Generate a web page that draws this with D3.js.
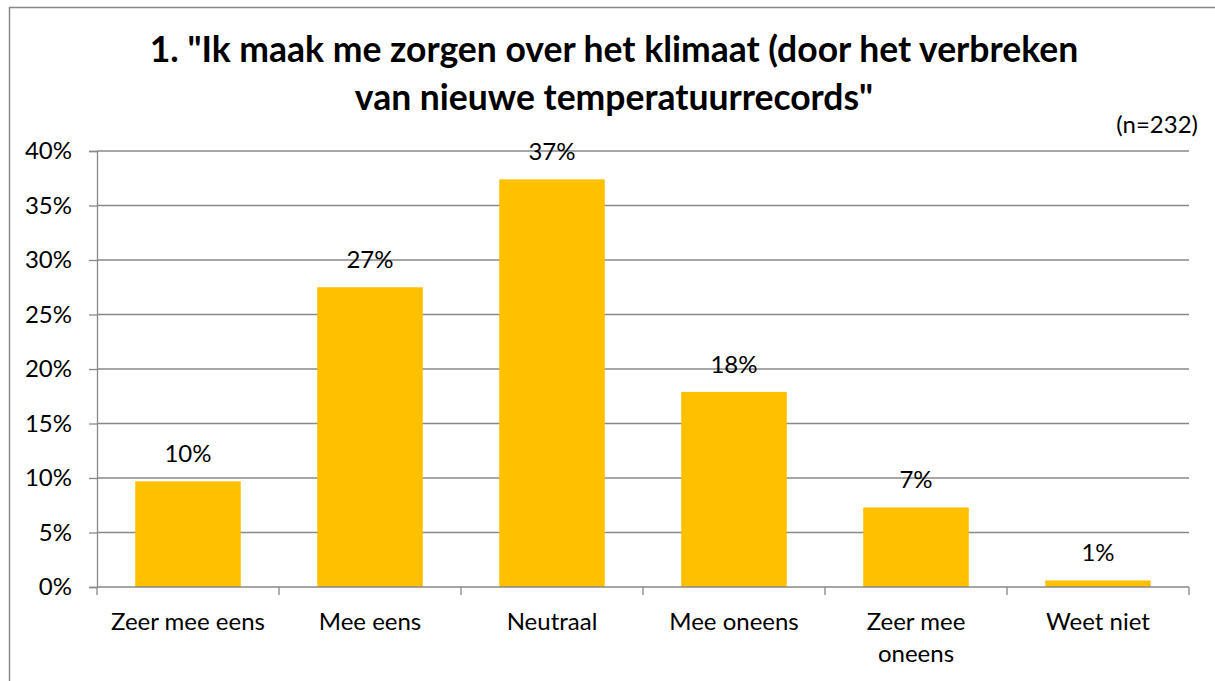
<!DOCTYPE html>
<html>
<head>
<meta charset="utf-8">
<script src="https://cdn.jsdelivr.net/npm/d3@7"></script>
<style>
    body { margin: 0; background: #fff; overflow: hidden; }
    svg { display: block; }
    text { font-family: Lato, "Open Sans", sans-serif; fill: #000; }
</style>
</head>
<body>
<div class="graph-goes-here"></div>
<script>
// chart data
var categories = ["Zeer mee eens", "Mee eens", "Neutraal", "Mee oneens", "Zeer mee oneens", "Weet niet"];
var values = [9.7, 27.5, 37.4, 17.9, 7.3, 0.6];
var valueLabels = ["10%", "27%", "37%", "18%", "7%", "1%"];
var yTicks = [0, 5, 10, 15, 20, 25, 30, 35, 40];
var titleLines = ["1. \"Ik maak me zorgen over het klimaat (door het verbreken", "van nieuwe temperatuurrecords\""];
var sampleNote = "(n=232)";

var W = 1215, H = 681;
var margin = { top: 151, right: 26, bottom: 94, left: 97 },
    width = W - margin.left - margin.right,
    height = H - margin.top - margin.bottom;

var labelSize = "24px";

var root = d3.select(".graph-goes-here")
    .append("svg")
    .attr("width", W)
    .attr("height", H);

// outer chart border: only top and left edges fall inside the picture
root.append("path")
    .attr("d", "M9.5," + H + "V7.5H" + W)
    .attr("fill", "none")
    .attr("stroke", "#888")
    .attr("stroke-width", 1.5);

root.append("g").selectAll("text")
    .data(titleLines)
    .join("text")
    .attr("x", 614)
    .attr("y", (d, i) => 62 + i * 48)
    .attr("text-anchor", "middle")
    .style("font-weight", "bold")
    .style("font-size", "35.5px")
    .text(d => d);

root.append("text")
    .attr("x", 1198).attr("y", 133)
    .attr("text-anchor", "end")
    .style("font-size", labelSize)
    .text(sampleNote);

var svg = root.append("g")
    .attr("transform", "translate(" + margin.left + "," + margin.top + ")");

var x = d3.scaleBand().domain(categories).range([0, width]).paddingInner(0.42).paddingOuter(0.21);
var y = d3.scaleLinear().domain([0, 40]).range([height, 0]);

// gridlines
svg.append("g").selectAll("line")
    .data(yTicks.slice(1))
    .join("line")
    .attr("x1", 0).attr("x2", width)
    .attr("y1", d => y(d)).attr("y2", d => y(d))
    .attr("stroke", "#888")
    .attr("stroke-width", 1.3);

svg.append("g").selectAll("rect")
    .data(values)
    .join("rect")
    .attr("x", (d, i) => x(categories[i]))
    .attr("y", d => y(d))
    .attr("width", x.bandwidth())
    .attr("height", d => height - y(d))
    .attr("fill", "#FFC000");

svg.append("g").selectAll("text")
    .data(values)
    .join("text")
    .attr("x", (d, i) => x(categories[i]) + x.bandwidth() / 2)
    .attr("y", d => y(d) - 19)
    .attr("text-anchor", "middle")
    .style("font-size", labelSize)
    .text((d, i) => valueLabels[i]);

var yAxis = svg.append("g")
    .call(d3.axisLeft(y).tickValues(yTicks).tickFormat(d => d + "%").tickSize(8).tickPadding(17));

// x axis: ticks sit on category boundaries, not on band centres
var xAxis = svg.append("g").attr("transform", "translate(0," + height + ")")
    .call(d3.axisBottom(x).tickSize(0).tickPadding(26));

xAxis.append("g").selectAll("line")
    .data(d3.range(categories.length + 1))
    .join("line")
    .attr("x1", i => i * width / categories.length)
    .attr("x2", i => i * width / categories.length)
    .attr("y1", 0).attr("y2", 8)
    .attr("stroke", "#888")
    .attr("stroke-width", 1.3);

[yAxis, xAxis].forEach(ax => {
    ax.select(".domain").attr("stroke", "#888").attr("stroke-width", 1.3);
    ax.selectAll(".tick line").attr("stroke", "#888").attr("stroke-width", 1.3);
    ax.selectAll(".tick text")
        .style("font-family", "Lato, 'Open Sans', sans-serif")
        .style("font-size", labelSize)
        .attr("fill", "#000");
});
xAxis.select(".domain").attr("d", "M0,0H" + width);

// wrap long category label over two lines
xAxis.selectAll(".tick text").each(function (d) {
    if (d === "Zeer mee oneens") {
        var t = d3.select(this).text(null);
        t.append("tspan").attr("x", 0).attr("dy", "0.71em").text("Zeer mee");
        t.append("tspan").attr("x", 0).attr("dy", "1.32em").text("oneens");
    }
});
</script>
</body>
</html>
